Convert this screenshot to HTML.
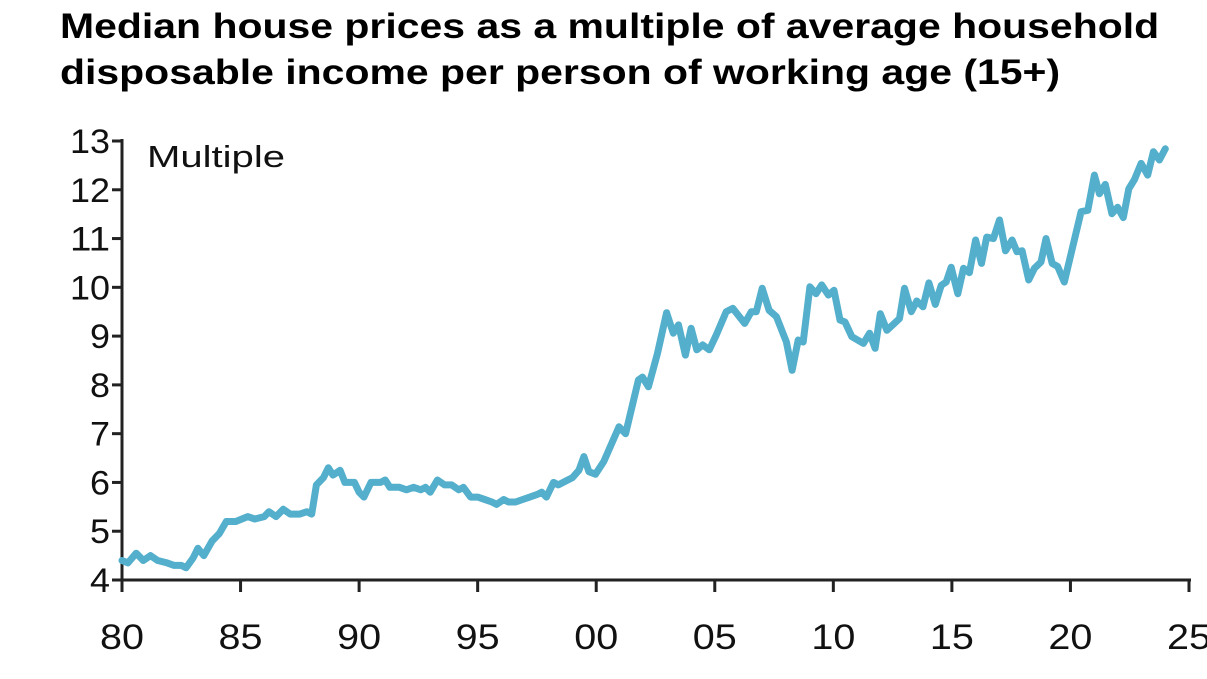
<!DOCTYPE html>
<html><head><meta charset="utf-8"><style>
html,body{margin:0;padding:0;background:#fff;}
body{width:1207px;height:679px;overflow:hidden;position:relative;font-family:"Liberation Sans",sans-serif;}
#title{position:absolute;left:60px;top:4px;font-size:35px;font-weight:bold;line-height:46px;color:#000;white-space:nowrap;transform-origin:0 0;transform:scaleX(1.17);}
svg{position:absolute;left:0;top:0;}
</style></head><body>
<div id="title">Median house prices as a multiple of average household<br>disposable income per person of working age (15+)</div>
<svg id="chart" width="1207" height="679"></svg>
<script>
const years=[1980,1980.25,1980.6,1980.9,1981.2,1981.5,1981.9,1982.2,1982.5,1982.7,1983.0,1983.2,1983.45,1983.8,1984.1,1984.4,1984.8,1985.3,1985.6,1986.0,1986.2,1986.5,1986.8,1987.1,1987.5,1987.8,1988.0,1988.2,1988.5,1988.7,1988.9,1989.2,1989.4,1989.8,1990.0,1990.2,1990.5,1990.9,1991.1,1991.3,1991.7,1992.0,1992.3,1992.6,1992.8,1993.0,1993.3,1993.6,1993.9,1994.2,1994.4,1994.7,1995.0,1995.3,1995.6,1995.8,1996.1,1996.3,1996.6,1996.9,1997.2,1997.5,1997.7,1997.9,1998.2,1998.4,1998.8,1999.0,1999.27,1999.48,1999.69,1999.97,2000.32,2000.96,2001.24,2001.78,2001.95,2002.2,2002.58,2002.97,2003.25,2003.47,2003.76,2004.0,2004.24,2004.49,2004.77,2005.06,2005.48,2005.76,2006.26,2006.54,2006.75,2007.0,2007.29,2007.6,2008.02,2008.26,2008.52,2008.73,2009.01,2009.27,2009.51,2009.79,2010.03,2010.28,2010.49,2010.78,2011.27,2011.53,2011.76,2011.98,2012.26,2012.79,2013.0,2013.29,2013.52,2013.78,2014.03,2014.3,2014.55,2014.76,2014.97,2015.25,2015.49,2015.74,2016.0,2016.25,2016.47,2016.75,2017.01,2017.26,2017.54,2017.74,2017.96,2018.24,2018.48,2018.76,2018.97,2019.23,2019.46,2019.74,2020.45,2020.73,2021.01,2021.22,2021.47,2021.75,2021.99,2022.23,2022.46,2022.7,2022.98,2023.26,2023.5,2023.75,2024.0];
const values=[4.4,4.35,4.55,4.4,4.5,4.4,4.35,4.3,4.3,4.25,4.45,4.65,4.5,4.8,4.95,5.2,5.2,5.3,5.25,5.3,5.4,5.3,5.45,5.35,5.35,5.4,5.35,5.95,6.1,6.3,6.15,6.25,6.0,6.0,5.8,5.7,6.0,6.0,6.05,5.9,5.9,5.85,5.9,5.85,5.9,5.8,6.05,5.95,5.95,5.85,5.9,5.7,5.7,5.65,5.6,5.55,5.65,5.6,5.6,5.65,5.7,5.75,5.8,5.7,6.0,5.95,6.05,6.1,6.25,6.53,6.22,6.17,6.43,7.14,7.0,8.1,8.16,7.96,8.64,9.48,9.06,9.23,8.61,9.16,8.72,8.82,8.72,9.02,9.5,9.57,9.26,9.5,9.5,9.98,9.53,9.4,8.88,8.3,8.92,8.88,10.01,9.87,10.05,9.84,9.94,9.33,9.29,8.99,8.85,9.06,8.75,9.46,9.12,9.36,9.98,9.5,9.72,9.6,10.09,9.65,10.04,10.11,10.41,9.87,10.39,10.3,10.97,10.49,11.03,11.0,11.38,10.75,10.97,10.73,10.75,10.15,10.39,10.52,11.0,10.49,10.43,10.11,11.55,11.58,12.3,11.92,12.11,11.51,11.64,11.43,12.02,12.21,12.54,12.3,12.78,12.61,12.84];
const yTicks=[4,5,6,7,8,9,10,11,12,13];
const xTicks=[1980,1985,1990,1995,2000,2005,2010,2015,2020,2025];
const xTickLabels=["80","85","90","95","00","05","10","15","20","25"];
const NS="http://www.w3.org/2000/svg";
const svg=document.getElementById('chart');
const X0=122,X1=1189,Y0=580,Y1=141;
function xs(t){return X0+(t-1980)/45*(X1-X0);}
function ys(v){return Y0-(v-4)/9*(Y0-Y1);}
function mk(tag,attrs){const e=document.createElementNS(NS,tag);for(const k in attrs)e.setAttribute(k,attrs[k]);svg.appendChild(e);return e;}
const yAxis=mk('line',{x1:X0,y1:Y1-2,x2:X0,y2:Y0,stroke:'#222','stroke-width':3});


const xAxis=mk('line',{x1:X0,y1:Y0,x2:X1+2,y2:Y0,stroke:'#222','stroke-width':3});


yTicks.forEach(v=>{
 const t=mk('line',{x1:X0-10,y1:ys(v),x2:X0,y2:ys(v),stroke:'#222','stroke-width':3});
 
 
 const l=mk('text',{x:X0-12,y:ys(v)+12,'text-anchor':'end','font-size':34,fill:'#111','font-family':'Liberation Sans, sans-serif','textLength':(String(v).length*20),'lengthAdjust':'spacingAndGlyphs'});
 l.textContent=v;
 
 
});
xTicks.forEach((v,i)=>{
 const t=mk('line',{x1:xs(v),y1:Y0,x2:xs(v),y2:Y0+12,stroke:'#222','stroke-width':3});
 
 
 const l=mk('text',{x:xs(v),y:649,'text-anchor':'middle','font-size':35,fill:'#111','font-family':'Liberation Sans, sans-serif','textLength':44,'lengthAdjust':'spacingAndGlyphs'});
 l.textContent=xTickLabels[i];
 
 
});
const unit=mk('text',{x:147,y:167,'font-size':31,fill:'#111','font-family':'Liberation Sans, sans-serif','textLength':138,'lengthAdjust':'spacingAndGlyphs'});
unit.textContent='Multiple';


const d=years.map((t,i)=>(i?'L':'M')+xs(t).toFixed(1)+','+ys(values[i]).toFixed(1)).join(' ');
const line=mk('path',{d:d,fill:'none',stroke:'#53afcb','stroke-width':7,'stroke-linejoin':'round','stroke-linecap':'round'});


</script>
</body></html>
